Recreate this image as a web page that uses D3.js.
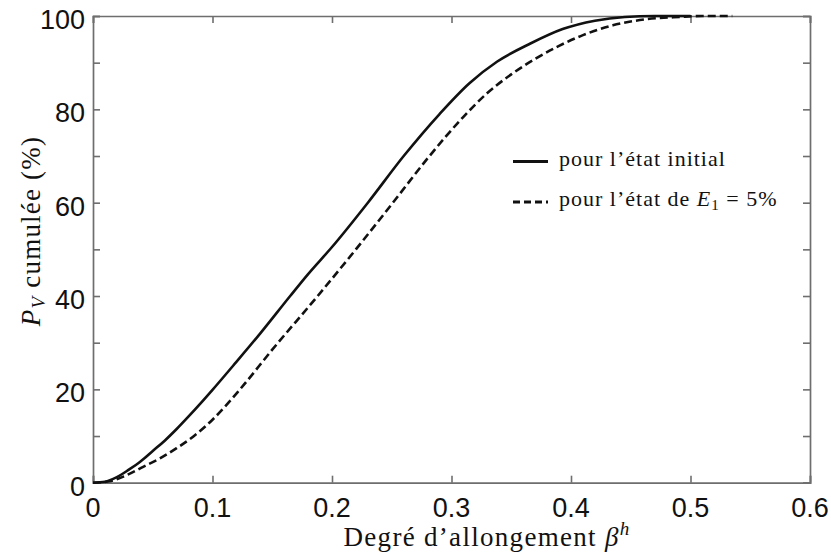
<!DOCTYPE html>
<html>
<head>
<meta charset="utf-8">
<script src="https://cdn.jsdelivr.net/npm/d3@7"></script>
<style>
html,body{margin:0;padding:0;background:#fff;}
svg{display:block;}
</style>
</head>
<body>
<svg id="chart" width="831" height="560"></svg>
<script>
// Data: beta^h values and cumulative P_V (%)
const initialBeta = [0, 0.01, 0.02, 0.03, 0.04, 0.05, 0.06, 0.07, 0.08, 0.09, 0.10, 0.12, 0.14, 0.165, 0.18, 0.20, 0.23, 0.26, 0.29, 0.315, 0.338, 0.366, 0.393, 0.42, 0.445, 0.47, 0.50];
const initialPct  = [0, 0.2, 1.2, 2.8, 4.6, 6.8, 9.0, 11.5, 14.2, 17.0, 19.9, 25.9, 32.0, 40, 44.7, 50.5, 60, 70, 79, 85.6, 90.2, 94.1, 97.2, 99, 99.8, 100, 100];
const strainBeta = [0, 0.014, 0.028, 0.042, 0.056, 0.07, 0.084, 0.10, 0.123, 0.15, 0.188, 0.22, 0.251, 0.28, 0.31, 0.33, 0.35, 0.37, 0.39, 0.41, 0.435, 0.463, 0.491, 0.51, 0.535];
const strainPct  = [0, 0.3, 1.6, 3.4, 5.2, 7.4, 9.9, 13.5, 20, 28.5, 40, 50, 60, 69.5, 78.4, 83.5, 87.5, 90.8, 93.6, 95.9, 98.0, 99.3, 99.8, 100, 100];
const xTicks = [0, 0.1, 0.2, 0.3, 0.4, 0.5, 0.6];
const xTickLabels = ["0", "0.1", "0.2", "0.3", "0.4", "0.5", "0.6"];
const yTicks = [0, 20, 40, 60, 80, 100];
const yMinorTicks = [0, 10, 20, 30, 40, 50, 60, 70, 80, 90, 100];

(function () {
const svg = d3.select("#chart");
const pL = 93, pR = 810, pT = 16, pB = 482.7;
const x = d3.scaleLinear().domain([0, 0.6]).range([pL, pR]);
const y = d3.scaleLinear().domain([0, 100]).range([pB, pT]);

const frameColor = "#6e6e6e";
const tickLen = 7;
const numFont = "'Liberation Sans', Arial, sans-serif";
const serif = "'Liberation Serif', 'DejaVu Serif', serif";

// Axes with inward ticks on all four sides
const gB = svg.append("g").attr("transform", `translate(0,${pB})`)
  .call(d3.axisBottom(x).tickValues(xTicks).tickSize(-tickLen).tickFormat(""));
const gT = svg.append("g").attr("transform", `translate(0,${pT})`)
  .call(d3.axisTop(x).tickValues(xTicks).tickSize(-tickLen).tickFormat(""));
const gL = svg.append("g").attr("transform", `translate(${pL},0)`)
  .call(d3.axisLeft(y).tickValues(yMinorTicks).tickSize(-tickLen).tickFormat(""));
const gR = svg.append("g").attr("transform", `translate(${pR},0)`)
  .call(d3.axisRight(y).tickValues(yMinorTicks).tickSize(-tickLen).tickFormat(""));
[gB, gT, gL, gR].forEach(g => {
  g.select(".domain").attr("stroke", frameColor).attr("stroke-width", 1.7);
  g.selectAll(".tick line").attr("stroke", frameColor).attr("stroke-width", 1.6);
});

// Tick labels
svg.append("g").selectAll("text").data(xTicks).join("text")
  .attr("x", d => x(d)).attr("y", pB + 34)
  .attr("text-anchor", "middle")
  .style("font-family", numFont).style("font-size", "27px").attr("fill", "#111")
  .text((d, i) => xTickLabels[i]);
svg.append("g").selectAll("text").data(yTicks).join("text")
  .attr("x", pL - 8).attr("y", d => y(d) + 13)
  .attr("text-anchor", "end")
  .style("font-family", numFont).style("font-size", "27px").attr("fill", "#111")
  .text(d => d);

// Lines
const line = d3.line().x(d => x(d[0])).y(d => y(d[1])).curve(d3.curveMonotoneX);
const initialData = initialBeta.map((b, i) => [b, initialPct[i]]);
const strainData = strainBeta.map((b, i) => [b, strainPct[i]]);

svg.append("path").datum(strainData).attr("d", line)
  .attr("fill", "none").attr("stroke", "#111").attr("stroke-width", 2.6)
  .attr("stroke-dasharray", "8,4");
svg.append("path").datum(initialData).attr("d", line)
  .attr("fill", "none").attr("stroke", "#111").attr("stroke-width", 2.6);

// Legend
const lg = svg.append("g");
lg.append("line").attr("x1", 513).attr("x2", 548).attr("y1", 161.5).attr("y2", 161.5)
  .attr("stroke", "#111").attr("stroke-width", 2.8);
lg.append("line").attr("x1", 513).attr("x2", 548).attr("y1", 202).attr("y2", 202)
  .attr("stroke", "#111").attr("stroke-width", 2.8).attr("stroke-dasharray", "7,4");
lg.append("text").attr("x", 559).attr("y", 166)
  .style("font-family", serif).style("font-size", "22px").style("letter-spacing", "1px").attr("fill", "#111")
  .text("pour l’état initial");
const t2 = lg.append("text").attr("x", 559).attr("y", 206)
  .style("font-family", serif).style("font-size", "22px").style("letter-spacing", "1px").attr("fill", "#111");
t2.append("tspan").text("pour l’état de ");
t2.append("tspan").style("font-style", "italic").text("E");
t2.append("tspan").attr("dy", 4).style("font-size", "15px").text("1");
t2.append("tspan").attr("dy", -4).text(" = 5%");

// X axis title
const xt = svg.append("text").attr("x", 487).attr("y", 546).attr("text-anchor", "middle")
  .style("font-family", serif).style("font-size", "27px").style("letter-spacing", "1.3px").attr("fill", "#111");
xt.append("tspan").text("Degré d’allongement ");
xt.append("tspan").style("font-style", "italic").text("β");
xt.append("tspan").attr("dy", -11).style("font-style", "italic").style("font-size", "19px").text("h");

// Y axis title
const yt = svg.append("text").attr("transform", "translate(40,231) rotate(-90)")
  .attr("text-anchor", "middle")
  .style("font-family", serif).style("font-size", "27px").style("letter-spacing", "1.2px").attr("fill", "#111");
yt.append("tspan").style("font-style", "italic").text("P");
yt.append("tspan").attr("dy", 5).style("font-style", "italic").style("font-size", "19px").text("V");
yt.append("tspan").attr("dy", -5).text(" cumulée (%)");
})();
</script>
</body>
</html>
